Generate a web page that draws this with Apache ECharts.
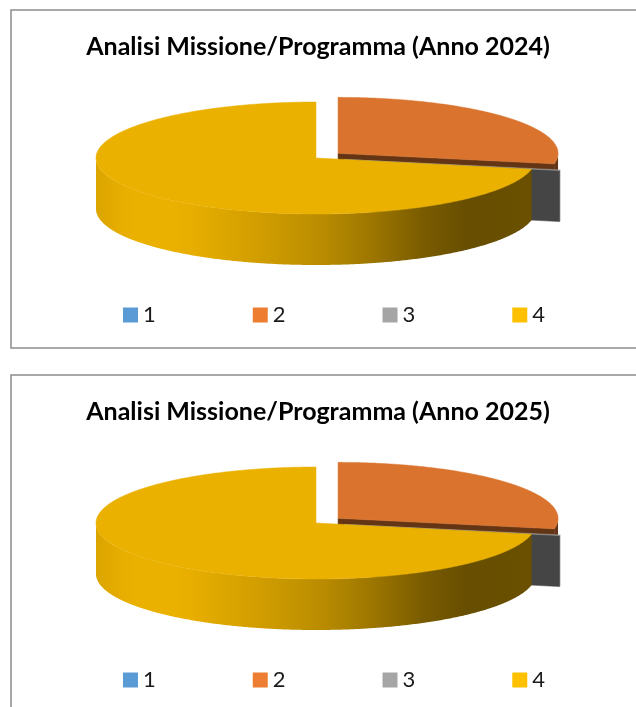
<!DOCTYPE html>
<html>
<head>
<meta charset="utf-8">
<script src="https://cdn.jsdelivr.net/npm/echarts@6/dist/echarts.min.js"></script>
<style>
  html, body { margin: 0; padding: 0; background: #fff; overflow: hidden; }
  .panel { position: absolute; left: 0; width: 636px; height: 365px; }
  #chart2024 { top: 0; }
  #chart2025 { top: 365px; }
</style>
</head>
<body>
<div id="chart2024" class="panel"></div>
<div id="chart2025" class="panel"></div>
<script>
// dati
const categories = ['1', '2', '3', '4'];
const values2024 = [0, 28, 0.2, 71.8];
const values2025 = [0, 28, 0.2, 71.8];
const explodedSlices = [false, true, true, false];
const palette = ['#5B9BD5', '#ED7D31', '#A5A5A5', '#FFC000'];

// pie 3d (ellisse + spessore)
const PIE = { cx: 316, cy: 158, rx: 220, ry: 56, depth: 51, explode: 0.13 };
const TOP_SHADE = 0.92;
const SIDE_SHADE = 0.42;
// luce della parete in funzione di sin(angolo): sinistra chiara, destra scura
const WALL_LIGHT = [[-1, 0.86], [-0.85, 0.92], [-0.6, 0.92], [-0.3, 0.83], [0, 0.74],
  [0.25, 0.62], [0.5, 0.47], [0.7, 0.4], [1, 0.42]];

const rad = d => d * Math.PI / 180;

function shade(hex, k) {
  const n = parseInt(hex.slice(1), 16);
  const r = Math.round(((n >> 16) & 255) * k);
  const g = Math.round(((n >> 8) & 255) * k);
  const b = Math.round((n & 255) * k);
  return 'rgb(' + r + ',' + g + ',' + b + ')';
}

function wallLight(x) {
  for (let i = 1; i < WALL_LIGHT.length; i++) {
    const p = WALL_LIGHT[i - 1], q = WALL_LIGHT[i];
    if (x <= q[0]) return p[1] + (q[1] - p[1]) * (x - p[0]) / (q[0] - p[0]);
  }
  return WALL_LIGHT[WALL_LIGHT.length - 1][1];
}

function slicesFrom(values) {
  const total = values.reduce((s, v) => s + v, 0);
  let acc = 0;
  return values.map((v, i) => {
    const a = acc / total * 360;
    acc += v;
    const b = acc / total * 360;
    const mid = (a + b) / 2;
    const e = explodedSlices[i] ? PIE.explode : 0;
    return {
      a, b, mid,
      ox: e * PIE.rx * Math.sin(rad(mid)),
      oy: -e * PIE.ry * Math.cos(rad(mid))
    };
  });
}

function renderSlice(slice, color) {
  return function () {
    if (slice.b - slice.a <= 0) return { type: 'group', children: [] };
    const cx = PIE.cx + slice.ox, cy = PIE.cy + slice.oy;
    const pt = (t, down) => [cx + PIE.rx * Math.sin(rad(t)),
      cy - PIE.ry * Math.cos(rad(t)) + (down ? PIE.depth : 0)];
    const arc = (from, to, down) => {
      const n = Math.max(2, Math.ceil(Math.abs(to - from) * 2));
      const pts = [];
      for (let k = 0; k <= n; k++) pts.push(pt(from + (to - from) * k / n, down));
      return pts;
    };
    const children = [];

    // facce radiali visibili
    const faces = [];
    if (Math.sin(rad(slice.a)) < -1e-6) faces.push(slice.a);
    if (Math.sin(rad(slice.b)) > 1e-6) faces.push(slice.b);
    faces.forEach(t => {
      const c = shade(color, SIDE_SHADE);
      children.push({
        type: 'polygon',
        shape: { points: [[cx, cy], pt(t), pt(t, true), [cx, cy + PIE.depth]] },
        style: { fill: c, stroke: c, lineWidth: 0.5 }
      });
    });

    // parete esterna (solo davanti)
    const lo = Math.max(slice.a, 90), hi = Math.min(slice.b, 270);
    if (hi > lo) {
      const xmin = Math.sin(rad(hi)), xmax = Math.sin(rad(lo));
      const stops = [];
      const N = 24;
      for (let k = 0; k <= N; k++) {
        const t = hi - (hi - lo) * k / N;
        const x = Math.sin(rad(t));
        const off = xmax - xmin > 1e-6 ? (x - xmin) / (xmax - xmin) : k / N;
        stops.push({ offset: Math.min(1, Math.max(0, off)), color: shade(color, wallLight(x)) });
      }
      children.push({
        type: 'polygon',
        shape: { points: arc(lo, hi).concat(arc(hi, lo, true)) },
        style: { fill: { type: 'linear', x: 0, y: 0, x2: 1, y2: 0, colorStops: stops } }
      });
    }

    // faccia superiore
    const top = shade(color, TOP_SHADE);
    children.push({
      type: 'polygon',
      shape: { points: [[cx, cy]].concat(arc(slice.a, slice.b)) },
      style: { fill: top, stroke: top, lineWidth: 0.5 }
    });
    return { type: 'group', children };
  };
}

function buildOption(year, values) {
  const slices = slicesFrom(values);
  // ordine di disegno: dal fondo verso chi guarda
  const order = slices.map((s, i) => i).sort((i, j) => Math.cos(rad(slices[j].mid)) - Math.cos(rad(slices[i].mid)));
  const series = categories.map((name, i) => ({
    type: 'custom',
    name: name,
    coordinateSystem: 'none',
    z: 2 + order.indexOf(i),
    silent: true,
    itemStyle: { color: palette[i] },
    data: [[values[i]]],
    renderItem: renderSlice(slices[i], palette[i])
  }));
  return {
    animation: false,
    title: {
      text: 'Analisi Missione/Programma (Anno ' + year + ')',
      left: 'center',
      top: 34,
      padding: 0,
      textStyle: { fontFamily: 'Lato', fontWeight: 'bold', fontSize: 25, lineHeight: 26, color: '#000' }
    },
    legend: {
      data: categories,
      left: 123,
      top: 304,
      padding: 0,
      itemWidth: 15,
      itemHeight: 15,
      itemGap: 97,
      icon: 'rect',
      textStyle: { fontFamily: 'Lato', fontSize: 22, lineHeight: 15, color: '#1a1a1a' }
    },
    graphic: [{
      type: 'rect',
      silent: true,
      shape: { x: 11, y: 10, width: 700, height: 338 },
      style: { fill: 'none', stroke: '#8c8c8c', lineWidth: 1.5 }
    }],
    series: series
  };
}

const chart2024 = echarts.init(document.getElementById('chart2024'));
chart2024.setOption(buildOption(2024, values2024));
const chart2025 = echarts.init(document.getElementById('chart2025'));
chart2025.setOption(buildOption(2025, values2025));
</script>
</body>
</html>
